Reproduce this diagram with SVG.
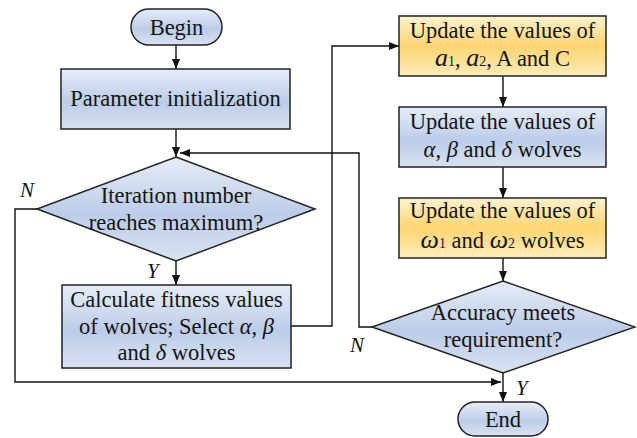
<svg xmlns="http://www.w3.org/2000/svg" width="637" height="438" viewBox="0 0 637 438">
  <defs>
    <linearGradient id="gBlue" x1="0" y1="0" x2="0" y2="1">
      <stop offset="0" stop-color="#e6edf8"/>
      <stop offset="0.55" stop-color="#bccce8"/>
      <stop offset="1" stop-color="#d8e2f2"/>
    </linearGradient>
    <linearGradient id="gYellow" x1="0" y1="0" x2="0" y2="1">
      <stop offset="0" stop-color="#fff3d2"/>
      <stop offset="0.5" stop-color="#fdd571"/>
      <stop offset="1" stop-color="#feecbb"/>
    </linearGradient>
    <marker id="arrow" viewBox="0 0 10 8" refX="10" refY="4" markerWidth="10" markerHeight="8" markerUnits="userSpaceOnUse" orient="auto">
      <path d="M0,0 L10,4 L0,8 Z" fill="#111"/>
    </marker>
  </defs>
  <style>
    .blue { fill: url(#gBlue); stroke: #222; stroke-width: 1.5; }
    .yellow { fill: url(#gYellow); stroke: #222; stroke-width: 1.5; }
    .t { font-family: "Liberation Serif", "Times New Roman", serif; font-size: 22.5px; fill: #141414; text-anchor: middle; }
    .lbl { font-family: "Liberation Serif", "Times New Roman", serif; font-size: 21px; font-style: italic; fill: #141414; }
    .it { font-style: italic; }
    .big { font-style: italic; font-size: 26px; }
    .sub { font-size: 14px; }
    .conn path { fill: none; stroke: #111; stroke-width: 1.4; }
  </style>

  <!-- connectors -->
  <g id="connectors" class="conn">
    <path d="M176,45 V69" marker-end="url(#arrow)"/>
    <path d="M176,129 V157" marker-end="url(#arrow)"/>
    <path d="M176,261 V285" marker-end="url(#arrow)"/>
    <path d="M37,209 H15 V382 H501" marker-end="url(#arrow)"/>
    <path d="M291,326 H332 V46 H399" marker-end="url(#arrow)"/>
    <path d="M503,76 V107" marker-end="url(#arrow)"/>
    <path d="M503,167 V198" marker-end="url(#arrow)"/>
    <path d="M503,258 V281" marker-end="url(#arrow)"/>
    <path d="M372,327 H359 V153 H180" marker-end="url(#arrow)"/>
    <path d="M503,373 V402" marker-end="url(#arrow)"/>
  </g>

  <!-- branch labels -->
  <g id="labels">
    <text class="lbl" x="20" y="197">N</text>
    <text class="lbl" x="147" y="278">Y</text>
    <text class="lbl" x="350" y="352">N</text>
    <text class="lbl" x="516" y="395">Y</text>
  </g>

  <g id="begin">
    <rect class="blue" x="131" y="9" width="91" height="36" rx="18" ry="18"/>
    <text class="t" x="176.5" y="35">Begin</text>
  </g>

  <g id="init">
    <rect class="blue" x="61" y="69" width="229" height="60"/>
    <text class="t" x="175.5" y="106">Parameter initialization</text>
  </g>

  <g id="iter-check">
    <polygon class="blue" points="176,157 315,209 176,261 37,209"/>
    <text class="t" x="176" y="203">Iteration number</text>
    <text class="t" x="176" y="230">reaches maximum?</text>
  </g>

  <g id="fitness">
    <rect class="blue" x="62" y="285" width="229" height="83"/>
    <text class="t" x="176.5" y="307">Calculate fitness values</text>
    <text class="t" x="176.5" y="334">of wolves; Select <tspan class="it">α</tspan>, <tspan class="it">β</tspan></text>
    <text class="t" x="176.5" y="360">and <tspan class="it">δ</tspan> wolves</text>
  </g>

  <g id="update-aAC">
    <rect class="yellow" x="399" y="16" width="207" height="60"/>
    <text class="t" x="502.5" y="38">Update the values of</text>
    <text class="t" x="502.5" y="66"><tspan class="big">a</tspan><tspan class="sub">1</tspan>, <tspan class="big">a</tspan><tspan class="sub">2</tspan>, A and C</text>
  </g>

  <g id="update-abd">
    <rect class="blue" x="399" y="107" width="207" height="60"/>
    <text class="t" x="502.5" y="129">Update the values of</text>
    <text class="t" x="502.5" y="157"><tspan class="it">α</tspan>, <tspan class="it">β</tspan> and <tspan class="it">δ</tspan> wolves</text>
  </g>

  <g id="update-omega">
    <rect class="yellow" x="399" y="198" width="207" height="60"/>
    <text class="t" x="502.5" y="218">Update the values of</text>
    <text class="t" x="502.5" y="248"><tspan class="big">ω</tspan><tspan class="sub">1</tspan> and <tspan class="big">ω</tspan><tspan class="sub">2</tspan> wolves</text>
  </g>

  <g id="accuracy-check">
    <polygon class="blue" points="503,281 635,327 503,373 372,327"/>
    <text class="t" x="503" y="320">Accuracy meets</text>
    <text class="t" x="503" y="347">requirement?</text>
  </g>

  <g id="end">
    <rect class="blue" x="458" y="402" width="90" height="34" rx="17" ry="17"/>
    <text class="t" x="503" y="427">End</text>
  </g>
</svg>
